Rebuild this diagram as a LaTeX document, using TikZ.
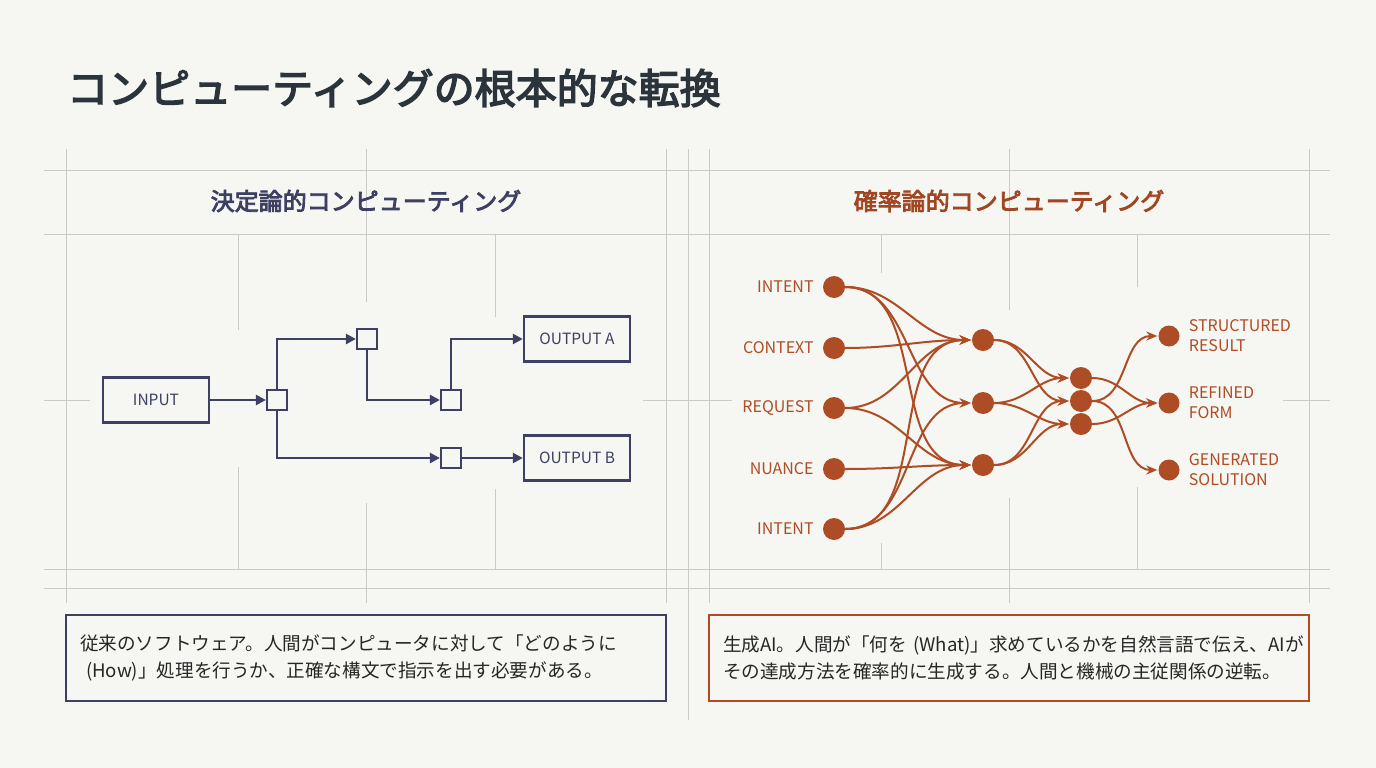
\documentclass[tikz,border=0pt]{standalone}
\usepackage{fontspec}
\setmainfont{Noto Sans CJK JP}
\newfontfamily\medfont{Noto Sans CJK JP}[FakeBold=3.5]
\usepackage{tikz}
\usetikzlibrary{arrows.meta,calc,positioning}
\definecolor{navy}{HTML}{3D4063}
\definecolor{rust}{HTML}{AE4C26}
\definecolor{ink}{HTML}{2B333B}
\definecolor{paper}{HTML}{F6F6F2}
\definecolor{rule}{HTML}{CACAC6}
\begin{document}
\begin{tikzpicture}[x=1pt,y=-1pt,
  gridline/.style={rule,line width=1pt},
  box/.style={draw=navy,line width=2.4pt,minimum width=106pt,minimum height=45pt,
    font=\fontsize{15.5}{18}\selectfont,text=navy,inner sep=0pt},
  junc/.style={draw=navy,line width=2.2pt,minimum size=20pt,inner sep=0pt,fill=paper},
  flow/.style={navy,line width=2.4pt,-{Triangle[length=10pt,width=10pt]}},
  dot/.style={circle,fill=rust,minimum size=22pt,inner sep=0pt},
  edge/.style={rust,line width=2pt,-{Stealth[length=11pt,width=9pt]},shorten >=1pt},
  lab/.style={text=rust,font=\fontsize{16}{20}\selectfont,inner sep=0pt},
  note/.style={line width=1.2pt,minimum width=600pt,minimum height=86pt,inner xsep=14pt,
    text width=572pt,align=left,font=\fontsize{18.6}{27}\selectfont,text=black!85}]
\fill[paper] (0,0) rectangle (1376,768);
\useasboundingbox (0,0) rectangle (1376,768);
% frame lines
\foreach \y in {170,234,569,588} \draw[gridline] (44,\y) -- (1330,\y);
\foreach \x in {66,666,709,1309} \draw[gridline] (\x,149) -- (\x,603);
\draw[gridline] (688,149) -- (688,720);
\foreach \a/\b in {44/90,643/732,1283/1330} \draw[gridline] (\a,400) -- (\b,400);
\foreach \x/\t/\b in {238/330/467,366/302/503,495/317/489,881/273/543,1009/310/498,1137/287/487}{
  \draw[gridline] (\x,234) -- (\x,\t);
  \draw[gridline] (\x,\b) -- (\x,569);}
\foreach \x in {366,1009}{\draw[gridline] (\x,149) -- (\x,234); \draw[gridline] (\x,569) -- (\x,603);}
% titles
\node[anchor=west,inner sep=0pt,text=ink,font=\fontsize{41}{48}\medfont] (title) at (67,88) {コンピューティングの根本的な転換};
\node[text=navy,font=\fontsize{24}{28}\medfont] (headL) at (366,201) {決定論的コンピューティング};
\node[text=rust!92!black,font=\fontsize{24}{28}\medfont] (headR) at (1009,201) {確率論的コンピューティング};
% deterministic
\node[box] (in) at (156,400) {INPUT};
\node[junc] (j1) at (277,400) {};
\node[junc] (j2) at (367,339) {};
\node[junc] (j3) at (451,400) {};
\node[junc] (j4) at (451,458) {};
\node[box] (outA) at (577,339) {OUTPUT A};
\node[box] (outB) at (577,458) {OUTPUT B};
\draw[flow] (in) -- (j1);
\draw[flow] (j1.north) |- (j2);
\draw[flow] (j2.south) |- (j3);
\draw[flow] (j3.north) |- (outA);
\draw[flow] (j1.south) |- (j4);
\draw[flow] (j4) -- (outB);
% probabilistic
\foreach \n/\y/\t in {1/287/INTENT,2/348/CONTEXT,3/408/REQUEST,4/469/NUANCE,5/529/INTENT}{
  \node[dot] (i\n) at (834,\y) {};
  \node[lab,left=9pt of i\n] (ti\n) {\t};}
\foreach \n/\y in {1/340,2/403,3/465} \node[dot] (h\n) at (983,\y) {};
\foreach \n/\y in {1/378,2/401,3/424} \node[dot] (k\n) at (1081,\y) {};
\foreach \n/\y/\t in {1/336/STRUCTURED\\RESULT,2/403/REFINED\\FORM,3/470/GENERATED\\SOLUTION}{
  \node[dot,minimum size=21pt] (o\n) at (1169,\y) {};
  \node[lab,align=left,right=9pt of o\n] (to\n) {\t};}
\foreach \a/\b in {i1/h1,i1/h2,i1/h3,i2/h1,i3/h1,i3/h3,i4/h3,i5/h1,i5/h2,i5/h3}
  \draw[edge] (\a) to[out=0,in=180] (\b);
\foreach \a/\b in {h1/k1,h1/k2,h2/k1,h2/k3,h3/k2,h3/k3}
  \draw[edge] (\a) to[out=0,in=180] (\b);
\foreach \a/\b in {k1/o2,k2/o1,k2/o3,k3/o2}
  \draw[edge] (\a) to[out=0,in=180] (\b);
% notes
\node[note,draw=navy] (noteL) at (366,658) {従来のソフトウェア。人間がコンピュータに対して「どのように\\\hspace{6pt}(How)」処理を行うか、正確な構文で指示を出す必要がある。};
\node[note,draw=rust] (noteR) at (1009,658) {生成AI。人間が「何を (What)」求めているかを自然言語で伝え、AIが\\その達成方法を確率的に生成する。人間と機械の主従関係の逆転。};
\end{tikzpicture}
\end{document}
